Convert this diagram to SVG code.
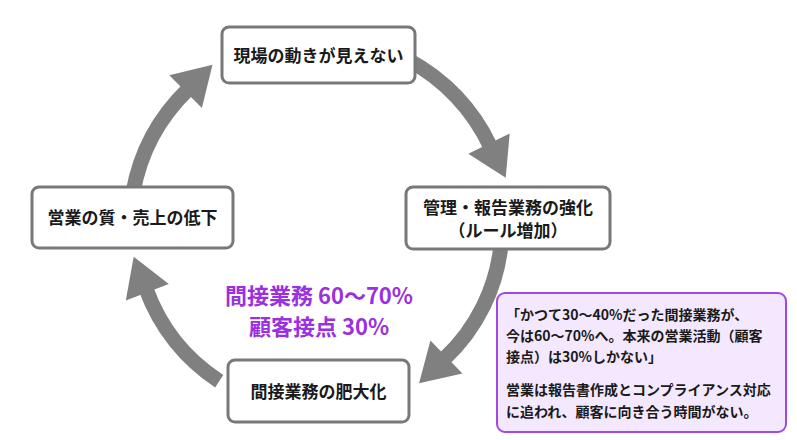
<svg xmlns="http://www.w3.org/2000/svg" width="797" height="440" viewBox="0 0 797 440">
<style>
.node rect{fill:#ffffff;stroke:#787878;stroke-width:3}
.nt{font-family:"Noto Sans CJK JP","Noto Sans",sans-serif;font-weight:700;font-size:17px;fill:#1a1a1a;text-anchor:middle}
.shaft{fill:none;stroke:#808080;stroke-width:15}
.head{fill:#808080}
.pt{font-family:"Noto Sans CJK JP","Noto Sans",sans-serif;font-weight:700;font-size:22px;fill:#9b30e0;text-anchor:middle}
.note rect{fill:#f3e8fd;stroke:#a347e6;stroke-width:2}
.ntx{font-family:"Noto Sans CJK JP","Noto Sans",sans-serif;font-weight:700;font-size:14px;fill:#1a1a1a}
</style>
<rect width="797" height="440" fill="#ffffff"/>
<g id="connectors">
<path class="shaft" d="M132.9,193 A190,190 0 0 1 188.0,89.3"/>
<polygon class="head" points="212.5,64.7 169.3,75.3 201.9,107.9"/>
<path class="shaft" d="M408.3,60 A188,188 0 0 1 490.4,146.6"/>
<polygon class="head" points="505.7,177.8 509.7,133.5 468.3,153.7"/>
<path class="shaft" d="M501.3,241.9 A182,182 0 0 1 444.1,359.1"/>
<polygon class="head" points="419.1,383.3 462.4,373.4 430.4,340.4"/>
<path class="shaft" d="M219.2,381.2 A185,185 0 0 1 146.2,289.3"/>
<polygon class="head" points="133.7,256.8 125.8,300.5 168.8,284.1"/>
</g>
<g id="node-top" class="node">
<rect x="222" y="27" width="193" height="56" rx="7"/>
<text class="nt" x="318.5" y="61.5">現場の動きが見えない</text>
</g>
<g id="node-right" class="node">
<rect x="406" y="187" width="204" height="62" rx="7"/>
<text class="nt" x="508" y="213.5">管理・報告業務の強化</text>
<text class="nt" x="508" y="237">（ルール増加）</text>
</g>
<g id="node-bottom" class="node">
<rect x="228" y="360" width="181" height="62" rx="7"/>
<text class="nt" x="318.5" y="397.5">間接業務の肥大化</text>
</g>
<g id="node-left" class="node">
<rect x="32" y="187" width="201" height="61" rx="7"/>
<text class="nt" x="132.5" y="223.5">営業の質・売上の低下</text>
</g>
<g id="stat">
<text class="pt" x="319" y="304">間接業務 60〜70%</text>
<text class="pt" x="319" y="335">顧客接点 30%</text>
</g>
<g id="note" class="note">
<rect x="497" y="293" width="289" height="139" rx="8"/>
<text class="ntx" x="506" y="320">「かつて30〜40%だった間接業務が、</text>
<text class="ntx" x="506" y="341">今は60〜70%へ。本来の営業活動（顧客</text>
<text class="ntx" x="506" y="362">接点）は30%しかない」</text>
<text class="ntx" x="506" y="395">営業は報告書作成とコンプライアンス対応</text>
<text class="ntx" x="506" y="417">に追われ、顧客に向き合う時間がない。</text>
</g>
</svg>
